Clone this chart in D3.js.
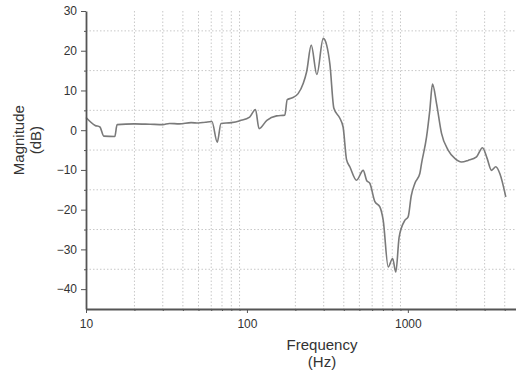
<!DOCTYPE html>
<html>
<head>
<meta charset="utf-8">
<script src="https://cdn.jsdelivr.net/npm/d3@7"></script>
<style>
  body { margin: 0; background: #fff; }
  svg { display: block; font-family: Arial, "Liberation Sans", sans-serif; }
  .grid line { stroke: #c8c8c8; stroke-width: 1; stroke-dasharray: 1.5,2; }
  .axis path, .axis line { stroke: #555; }
  .axis text { fill: #333; font-size: 12px; }
  .line { fill: none; stroke: #7a7a7a; stroke-width: 1.6; }
  .title { fill: #333; font-size: 15px; }
</style>
</head>
<body>
<script>
// frequency response
var freq = [10, 11.4, 12.2, 12.9, 15.1, 15.6, 20, 25, 30, 33, 38, 45, 50, 55, 60.6, 65.4, 69, 80, 90.5,
  104, 113, 119, 133, 153, 172, 178, 190, 208, 224, 235, 251, 272, 298, 313, 328,
  347, 378, 396, 416, 436, 480, 528, 554, 581, 624, 670, 703, 755, 804, 842, 883,
  958, 1004, 1050, 1105, 1187, 1216, 1307, 1369, 1423, 1508, 1619, 1779, 1958,
  2156, 2368, 2672, 2911, 3109, 3311, 3521, 3728, 4062];
var mag = [3.2, 1.2, 0.8, -1.5, -1.6, 1.4, 1.6, 1.5, 1.4, 1.7, 1.6, 1.9, 1.8, 2.0, 2.2, -3.0, 1.7, 1.9, 2.4,
  3.3, 5.2, 0.4, 2.5, 3.6, 3.8, 7.7, 8.1, 9.2, 11.8, 14.7, 21.4, 14.0, 23.1, 21.4, 16.5,
  5.5, 3.0, 0.8, -7.4, -9.2, -12.6, -10.1, -12.6, -13.4, -18, -19.3, -22.7, -34.4, -32.3, -35.7, -26.9,
  -22.7, -21.8, -16.5, -13.4, -10.9, -8.4, -1.7, 5, 11.6, 6.7, -0.8, -5, -7.1,
  -8, -7.6, -6.7, -4.4, -7.1, -10.1, -9.2, -10.9, -16.8];

var xMajor = [10, 100, 1000];
var xMinor = [20, 30, 40, 50, 60, 70, 80, 90, 200, 300, 400, 500, 600, 700, 800, 900, 2000, 3000, 4000];
var yMajor = [-40, -30, -20, -10, 0, 10, 20, 30];
var yMinor = [-35, -25, -15, -5, 5, 15, 25];

var data = freq.map(function(f, i) { return {f: f, m: mag[i]}; });

var margin = {top: 11, right: 0, bottom: 67, left: 86},
    width = 516 - margin.left - margin.right,
    height = 376 - margin.top - margin.bottom;

var x = d3.scaleLog().domain([10, 4700]).range([0, width]);
var y = d3.scaleLinear().domain([-45, 30]).range([height, 0]);

var svg = d3.select("body").append("svg")
    .attr("width", 516)
    .attr("height", 376)
  .append("g")
    .attr("transform", "translate(" + margin.left + "," + margin.top + ")");

// dotted grid on the minor positions
svg.append("g").attr("class", "grid")
  .selectAll("line").data(xMinor).enter().append("line")
    .attr("x1", function(d) { return x(d); })
    .attr("x2", function(d) { return x(d); })
    .attr("y1", 0).attr("y2", height);
svg.append("g").attr("class", "grid")
  .selectAll("line").data(yMinor).enter().append("line")
    .attr("x1", 0).attr("x2", width)
    .attr("y1", function(d) { return y(d); })
    .attr("y2", function(d) { return y(d); });

// curve
var line = d3.line()
    .x(function(d) { return x(d.f); })
    .y(function(d) { return y(d.m); })
    .curve(d3.curveMonotoneX);
svg.append("path").datum(data).attr("class", "line").attr("d", line);

// minor tick marks
svg.append("g").attr("class", "axis")
    .attr("transform", "translate(0," + height + ")")
    .call(d3.axisBottom(x).tickValues(xMinor).tickSize(2).tickFormat(""))
    .call(function(g) { g.select(".domain").remove(); });
svg.append("g").attr("class", "axis")
    .call(d3.axisLeft(y).tickValues(yMinor).tickSize(2).tickFormat(""))
    .call(function(g) { g.select(".domain").remove(); });

// major axes
svg.append("g").attr("class", "axis")
    .attr("transform", "translate(0," + height + ")")
    .call(d3.axisBottom(x).tickValues(xMajor).tickSize(4).tickPadding(6).tickSizeOuter(0).tickFormat(d3.format("d")))
    .call(function(g) { g.select(".domain").attr("stroke-width", 1.8); });
svg.append("g").attr("class", "axis")
    .call(d3.axisLeft(y).tickValues(yMajor).tickSize(5).tickPadding(4).tickSizeOuter(0))
    .call(function(g) { g.select(".domain").attr("stroke-width", 1.8); });

// axis titles
svg.append("text").attr("class", "title")
    .attr("text-anchor", "middle")
    .attr("x", 236).attr("y", height + 41)
    .text("Frequency");
svg.append("text").attr("class", "title")
    .attr("text-anchor", "middle")
    .attr("x", 236).attr("y", height + 58)
    .text("(Hz)");
svg.append("text").attr("class", "title")
    .attr("text-anchor", "middle")
    .attr("transform", "translate(-62," + y(-2.5) + ") rotate(-90)")
    .text("Magnitude");
svg.append("text").attr("class", "title")
    .attr("text-anchor", "middle")
    .attr("transform", "translate(-45," + y(-2.5) + ") rotate(-90)")
    .text("(dB)");
</script>
</body>
</html>
